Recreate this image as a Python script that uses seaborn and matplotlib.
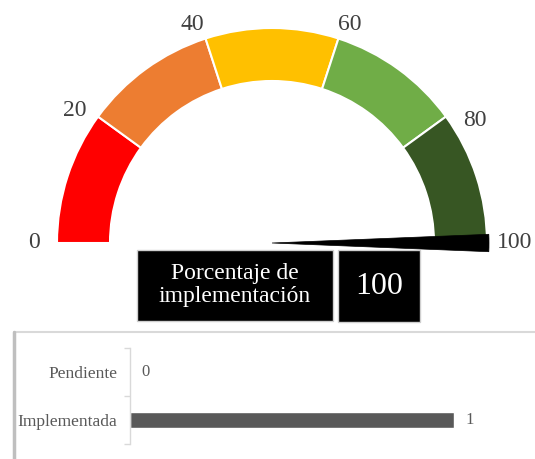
import numpy as np
import matplotlib
matplotlib.use("Agg")
import matplotlib.pyplot as plt
from matplotlib.patches import Wedge, Rectangle
from matplotlib.lines import Line2D
import pandas as pd
import seaborn as sns

# Gauge bands (boundaries in percent) and their colours
band_limits = [0, 20, 40, 60, 80, 100]
band_colors = ["#FF0000", "#ED7D31", "#FFC000", "#70AD47", "#375623"]
gauge_value = 100
gauge_title = "Porcentaje de\nimplementación"

# Status counts for the bar panel
status = ["Pendiente", "Implementada"]
counts = [0, 1]

sns.set_theme(style="white")
plt.rcParams["font.family"] = ["Liberation Serif", "DejaVu Serif"]

W, H = 535, 459
fig = plt.figure(figsize=(W / 100, H / 100), dpi=100)
fig.patch.set_facecolor("white")

# Canvas axes in pixel-like units (y grows upward)
ax = fig.add_axes([0, 0, 1, 1])
ax.set_xlim(0, W)
ax.set_ylim(0, H)
ax.axis("off")

cx, cy = 272, H - 243
r_out, ring = 215, 53


def pct_to_deg(p):
    return 180 - p * 1.8


# Coloured gauge ring
for lo, hi, col in zip(band_limits[:-1], band_limits[1:], band_colors):
    ax.add_patch(Wedge((cx, cy), r_out, pct_to_deg(hi), pct_to_deg(lo),
                       width=ring, facecolor=col, edgecolor="white", lw=1.5))

# Scale labels around the ring (placement offsets from the gauge centre)
label_offsets = [(-238, 0), (-197, 133), (-80, 219), (78, 219), (203, 123),
                 (243, 0)]
for p, (dx, dy) in zip(band_limits, label_offsets):
    ax.text(cx + dx, cy + dy, f"{p}", ha="center", va="center",
            fontsize=17, color="#404040")

# Needle
na = pct_to_deg(gauge_value)
ax.add_patch(Wedge((cx, cy), r_out + 2, na - 2.3, na + 2.3,
                   facecolor="black", edgecolor="black", lw=0.5, zorder=5))

# Caption boxes
ax.add_patch(Rectangle((137, H - 321), 196, 71, facecolor="black",
                       edgecolor="#cfcfcf", lw=1))
ax.add_patch(Rectangle((338, H - 322), 82, 72, facecolor="black",
                       edgecolor="#cfcfcf", lw=1))
ax.text(235, H - 285, gauge_title, ha="center", va="center", fontsize=17,
        color="white", linespacing=1.15)
ax.text(379, H - 286, f"{gauge_value}", ha="center", va="center",
        fontsize=23, color="white")

# Frame around the bar panel
ax.add_line(Line2D([14, W], [H - 332, H - 332], color="#d9d9d9", lw=1.5))
ax.add_line(Line2D([14, 14], [H - 332, 0], color="#bfbfbf", lw=2.5))

# Bar panel
px_per_unit = 324
bax = fig.add_axes([130 / W, (H - 444) / H, 1.2 * px_per_unit / W, 96 / H])
df = pd.DataFrame({"estado": status, "n": counts})
sns.barplot(data=df, x="n", y="estado", orient="h", color="#595959",
            width=0.33, saturation=1, ax=bax)
bax.set_xlim(0, 1.2)
bax.set_ylim(1.5, -0.5)
bax.set_xlabel("")
bax.set_ylabel("")
bax.set_xticks([])
for s in ["top", "right", "bottom"]:
    bax.spines[s].set_visible(False)
bax.spines["left"].set_color("#d9d9d9")
bax.spines["left"].set_linewidth(1)
bax.set_yticks([-0.5, 0.5, 1.5], minor=True)
bax.tick_params(axis="y", which="major", length=0, pad=9, labelsize=12.5,
                labelcolor="#595959")
bax.tick_params(axis="y", which="minor", length=4, color="#d9d9d9",
                width=1, direction="out", left=True)
bax.patch.set_alpha(0)
for cont in bax.containers:
    bax.bar_label(cont, labels=[f"{v}" for v in counts], padding=8,
                  fontsize=12, color="#595959")

fig.savefig("out.png", dpi=100, facecolor="white")
